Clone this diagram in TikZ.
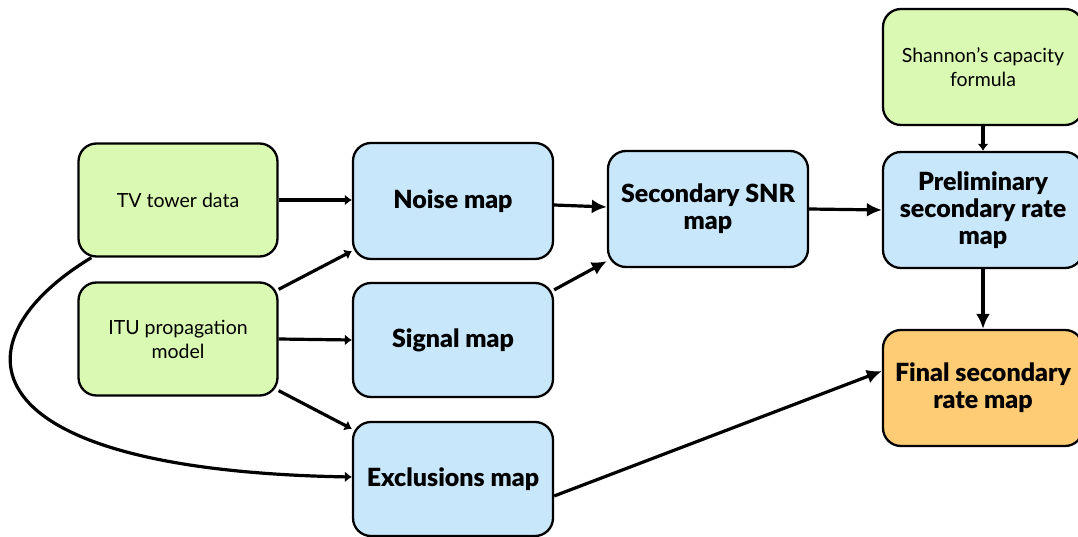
\documentclass[tikz,border=0pt]{standalone}
\usepackage{fontspec}
\setmainfont{Lato}[BoldFont={Lato Black}]
\usetikzlibrary{arrows.meta}
\definecolor{lgreen}{RGB}{218,249,179}
\definecolor{lblue}{RGB}{201,231,250}
\definecolor{lorange}{RGB}{255,204,118}
\tikzset{
  box/.style={draw=black, line width=2.3pt, rounded corners=18pt,
    minimum width=200pt, minimum height=115pt, align=center, inner sep=0pt},
  srcbox/.style={box, fill=lgreen, font=\fontsize{19.5}{24}\selectfont},
  mapbox/.style={box, fill=lblue, font=\bfseries\fontsize{25}{27}\selectfont},
  finalbox/.style={mapbox, fill=lorange},
  link/.style={line width=3.2pt, -{Latex[length=15pt,width=14pt]}},
  feed/.style={line width=3.2pt, -{Latex[length=7pt,width=11pt]}},
}
\begin{document}
\begin{tikzpicture}[x=1pt,y=-1pt]
\useasboundingbox (0,0) rectangle (1078,537);
\begin{scope}
\clip (0,0) rectangle (1078,537);
\node[srcbox, minimum width=199pt, minimum height=113pt] (tv) at (178,200) {TV tower data};
\node[srcbox, minimum width=199pt, minimum height=113pt] (itu) at (178,339) {ITU propagation\\model};
\node[mapbox, minimum height=116pt] (noise) at (453,201) {Noise map};
\node[mapbox, minimum height=114pt] (signal) at (453,340) {Signal map};
\node[mapbox, minimum height=114pt] (excl) at (453,479) {Exclusions map};
\node[mapbox, minimum height=116pt] (snr) at (708,209) {Secondary SNR\\map};
\node[srcbox, minimum height=116pt] (shannon) at (983,67) {Shannon’s capacity\\formula};
\node[mapbox, minimum height=116pt] (prelim) at (983,210) {Preliminary\\secondary rate\\map};
\node[finalbox, minimum height=116pt] (final) at (983,388) {Final secondary\\rate map};

\draw[feed] (tv.east) -- (noise.west |- tv.east);
\draw[feed] ([yshift=-8pt]itu.north east) -- ([yshift=9pt]noise.south west);
\draw[feed] (itu.east) -- (signal.west);
\draw[feed] ([yshift=6pt]itu.south east) -- ([yshift=-8pt]excl.north west);
\draw[feed] ([xshift=14pt]tv.south west) .. controls (-45,340) and (-40,470) .. ([yshift=2pt]excl.west);
\draw[link] ([yshift=-4pt]noise.east) -- ([yshift=2pt]snr.west);
\draw[link] ([yshift=-8pt]signal.north east) -- ([yshift=7pt]snr.south west);
\draw[link] (snr.east) -- (prelim.west);
\draw[feed] (shannon.south) -- (prelim.north);
\draw[link] (prelim.south) -- (final.north);
\draw[link] ([yshift=-17pt]excl.east) -- ([yshift=17pt]final.west);
\end{scope}
\end{tikzpicture}
\end{document}
